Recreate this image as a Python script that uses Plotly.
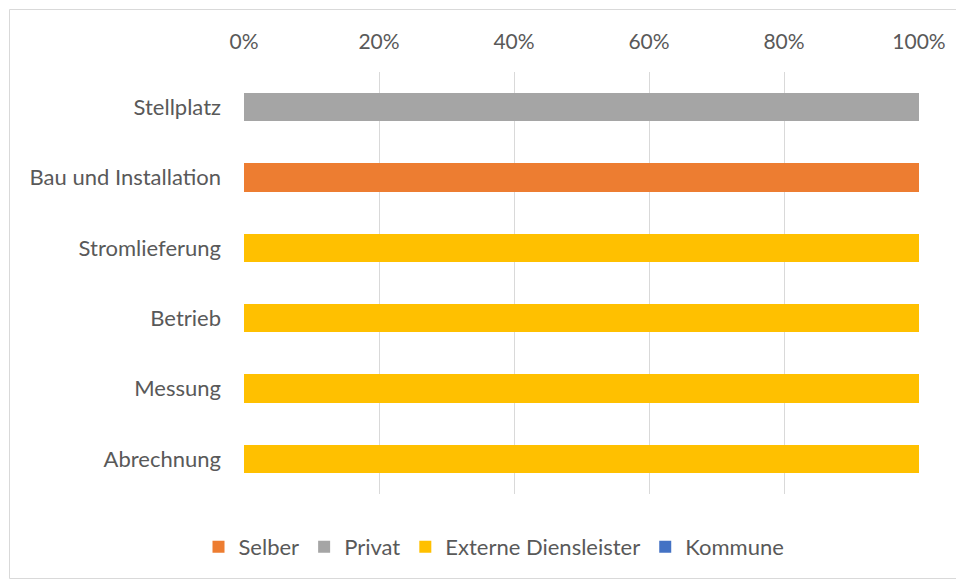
import plotly.graph_objects as go

categories = ["Stellplatz", "Bau und Installation", "Stromlieferung", "Betrieb", "Messung", "Abrechnung"]
series_names = ["Selber", "Privat", "Externe Diensleister", "Kommune"]
selber = [0, 100, 0, 0, 0, 0]
privat = [100, 0, 0, 0, 0, 0]
externe = [0, 0, 100, 100, 100, 100]
kommune = [0, 0, 0, 0, 0, 0]
colors = ["#ED7D31", "#A5A5A5", "#FFC000", "#4472C4"]
tick_vals = [0, 20, 40, 60, 80, 100]
tick_text = ["0%", "20%", "40%", "60%", "80%", "100%"]

fig = go.Figure()
for name, vals, col in zip(series_names, [selber, privat, externe, kommune], colors):
    fig.add_trace(go.Bar(y=categories, x=vals, name=name, orientation="h",
                         marker=dict(color=col, line=dict(width=0))))

OFF = 8  # page body margin
W, H = 964 - OFF, 581 - OFF
L, T = 244 - OFF, 72 - OFF
R = W - (919 - OFF)
B = H - (494 - OFF)
pw, ph = W - L - R, H - T - B

def px_x(x):
    return (x - OFF - L) / pw

def px_y(y):
    return (H - B - (y - OFF)) / ph

fig.update_layout(
    width=W, height=H,
    barmode="stack", bargap=0.6,
    margin=dict(l=L, r=R, t=T, b=B),
    paper_bgcolor="white", plot_bgcolor="white",
    font=dict(family="Lato, Open Sans, sans-serif", size=22, color="#595959"),
    xaxis=dict(side="top", range=[0, 100], tickvals=tick_vals, ticktext=tick_text,
               tickfont=dict(size=21),
               showgrid=True, gridcolor="#D9D9D9", gridwidth=1, zeroline=False,
               showline=False, ticks="", ticklabelstandoff=18, fixedrange=True),
    yaxis=dict(autorange="reversed", showgrid=False, zeroline=False, showline=False,
               ticks="", ticklabelstandoff=22, fixedrange=True),
    legend=dict(orientation="h", x=px_x(486 + OFF), xanchor="center", y=px_y(547), yanchor="middle",
                traceorder="normal", font=dict(size=22, color="#595959"),
                itemwidth=30),
    shapes=[dict(type="rect", xref="paper", yref="paper",
                 x0=px_x(9.5), x1=px_x(962.5), y0=px_y(578.5), y1=px_y(9.5),
                 line=dict(color="#D9D9D9", width=1), fillcolor="rgba(0,0,0,0)", layer="below")],
)

fig.write_html("out.html")
